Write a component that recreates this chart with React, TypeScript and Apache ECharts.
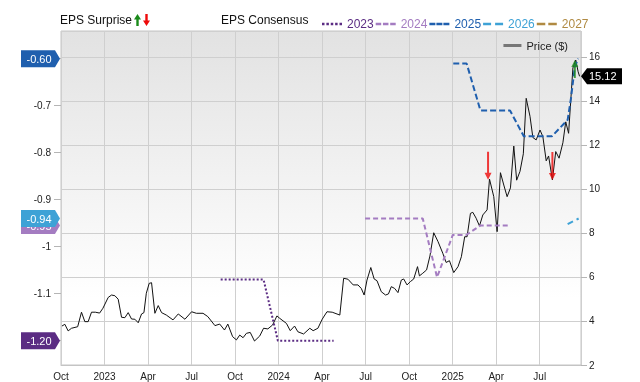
import { useEffect, useRef } from 'react';
import * as echarts from 'echarts';

const FONT = '"Liberation Sans", Arial, Helvetica, sans-serif';

// ---- Data ----
const priceDates = [
  '2022-10-03','2022-10-09','2022-10-16','2022-10-23','2022-11-05','2022-11-13','2022-11-20','2022-11-27',
  '2022-12-04','2022-12-12','2022-12-21','2022-12-28','2023-01-08','2023-01-15','2023-01-22','2023-01-29',
  '2023-02-05','2023-02-12','2023-02-19','2023-02-26','2023-03-05','2023-03-12','2023-03-19','2023-03-24',
  '2023-03-29','2023-04-04','2023-04-09','2023-04-16','2023-04-23','2023-04-30','2023-05-10','2023-05-24',
  '2023-06-04','2023-06-18','2023-07-02','2023-07-12','2023-07-26','2023-08-05','2023-08-20','2023-08-30',
  '2023-09-09','2023-09-16','2023-09-26','2023-10-04','2023-10-11','2023-10-18','2023-10-25','2023-11-02',
  '2023-11-11','2023-11-22','2023-11-30','2023-12-09','2023-12-19','2023-12-28','2024-01-03','2024-01-17',
  '2024-01-25','2024-02-03','2024-02-10','2024-02-22','2024-03-06','2024-03-13','2024-03-23','2024-04-01',
  '2024-04-11','2024-04-22','2024-05-08','2024-05-16','2024-05-25','2024-06-05','2024-06-15','2024-06-22',
  '2024-06-28','2024-07-04','2024-07-12','2024-07-19','2024-07-25','2024-08-03','2024-08-12','2024-08-18',
  '2024-08-24','2024-08-31','2024-09-07','2024-09-14','2024-09-19','2024-09-26','2024-10-03','2024-10-10',
  '2024-10-18','2024-10-22','2024-10-29','2024-11-06','2024-11-13','2024-11-21','2024-11-30','2024-12-10',
  '2024-12-17','2024-12-24','2025-01-02','2025-01-11','2025-01-18','2025-01-25','2025-01-30','2025-02-06',
  '2025-02-11','2025-02-18','2025-02-25','2025-03-04','2025-03-13','2025-03-18','2025-03-27','2025-04-03',
  '2025-04-10','2025-04-17','2025-04-24','2025-05-01','2025-05-08','2025-05-14','2025-05-21','2025-05-28',
  '2025-06-03','2025-06-11','2025-06-17','2025-06-24','2025-07-02','2025-07-08','2025-07-15','2025-07-20',
  '2025-07-28','2025-08-04','2025-08-11','2025-08-19','2025-08-25','2025-08-31','2025-09-09','2025-09-15',
  '2025-09-20','2025-09-23'
];
const priceValues = [
  3.77,3.85,3.55,3.67,3.74,4.40,3.97,3.97,
  4.40,4.40,4.36,4.58,5.07,5.18,5.15,4.99,
  4.17,4.15,4.38,4.09,4.08,3.92,4.32,4.38,
  5.26,5.71,5.74,4.35,4.70,4.38,4.27,4.05,
  4.32,4.08,4.42,4.35,4.35,4.20,3.79,3.86,
  3.59,3.86,3.29,3.14,3.36,3.24,3.44,3.48,
  3.09,3.32,3.67,3.64,3.82,4.23,4.12,3.89,
  3.56,3.77,3.51,3.41,3.67,3.56,3.67,4.08,
  4.42,4.40,4.27,5.94,5.90,5.64,5.64,5.48,
  5.18,5.86,6.43,5.91,5.83,5.33,5.18,5.23,
  5.56,5.48,5.29,5.86,5.91,5.64,5.79,5.91,
  6.47,6.05,6.17,6.32,6.95,8.01,7.61,7.08,
  6.66,6.74,6.20,6.47,6.92,7.83,7.83,8.89,
  8.94,8.67,8.32,8.82,9.05,10.45,9.65,8.06,
  10.74,10.18,9.65,10.05,11.95,10.40,10.80,11.60,
  14.12,13.30,12.34,12.23,12.68,12.38,11.28,11.50,
  10.41,11.70,11.40,12.10,13.05,12.53,15.50,15.86,
  15.33,15.12
];

const consensusYears = ['2023', '2024', '2025', '2026', '2027'];
const consensusColors = ['#5b2c83', '#a47cc1', '#1f5fae', '#3ea2d6', '#b08a42'];

const cons2023Dates = ['2023-09-01', '2023-11-30', '2023-12-30', '2024-04-25'];
const cons2023Values = [-1.07, -1.07, -1.2, -1.2];
const cons2024Dates = ['2024-06-30', '2024-10-29', '2024-11-28', '2024-12-31', '2025-01-28', '2025-02-27', '2025-04-30'];
const cons2024Values = [-0.94, -0.94, -1.065, -0.975, -0.975, -0.955, -0.955];
const cons2025Dates = ['2025-01-01', '2025-01-29', '2025-02-27', '2025-04-30', '2025-05-29', '2025-07-27', '2025-08-29', '2025-09-05', '2025-09-13', '2025-09-20'];
const cons2025Values = [-0.61, -0.61, -0.71, -0.71, -0.765, -0.765, -0.73, -0.684, -0.617, -0.6];
const cons2026Dates = ['2025-08-29', '2025-09-21'];
const cons2026Values = [-0.952, -0.94];
const cons2027Dates: string[] = [];
const cons2027Values: number[] = [];

const surpriseUpDates = ['2025-09-13'];
const surpriseUpPrices = [15.86];
const surpriseDownDates = ['2025-03-15', '2025-07-28'];
const surpriseDownPrices = [10.42, 10.41];

const xTickLabels = ['Oct', '2023', 'Apr', 'Jul', 'Oct', '2024', 'Apr', 'Jul', 'Oct', '2025', 'Apr', 'Jul'];
const X_START = '2022-10-01';
const X_END = '2025-09-26';

const legendIcons = [
  'path://M0,0h2.5v2.5h-2.5z M4.375,0h2.5v2.5h-2.5z M8.75,0h2.5v2.5h-2.5z M13.125,0h2.5v2.5h-2.5z M17.5,0h2.5v2.5h-2.5z',
  'path://M0,0h5.5v2.5h-5.5z M7.25,0h5.5v2.5h-5.5z M14.5,0h5.5v2.5h-5.5z',
  'path://M0,0h6v2.5h-6z M7,0h6v2.5h-6z M14,0h6v2.5h-6z',
  'path://M0,0h8v2.5h-8z M12,0h8v2.5h-8z',
  'path://M0,0h8.5v2.5h-8.5z M11.5,0h8.5v2.5h-8.5z',
];
const lineDashes = [[2, 2], [5, 3], [6, 3], [6, 4], [6, 3]];

const DAY = 86400000;
const QUARTER = 365.25 / 4;

export default function App() {
  const ref = useRef<HTMLDivElement>(null);

  useEffect(() => {
    if (!ref.current) return;
    const chart = echarts.init(ref.current, null, { renderer: 'svg' });
    const base = Date.parse(X_START);
    const toX = (s: string) => (Date.parse(s) - base) / DAY;
    const pair = (ds: string[], vs: number[]) => ds.map((d, i) => [toX(d), vs[i]]);

    const consensus = [
      { dates: cons2023Dates, values: cons2023Values },
      { dates: cons2024Dates, values: cons2024Values },
      { dates: cons2025Dates, values: cons2025Values },
      { dates: cons2026Dates, values: cons2026Values },
      { dates: cons2027Dates, values: cons2027Values },
    ];
    const lastConsensus = consensus.filter((c) => c.values.length).map((c) => c.values[c.values.length - 1]);

    const option: any = {
      animation: false,
      textStyle: { fontFamily: FONT },
      grid: {
        left: 61, right: 59, top: 31, bottom: 17, show: true,
        backgroundColor: new echarts.graphic.LinearGradient(0, 0, 0, 1, [
          { offset: 0, color: '#e2e2e2' },
          { offset: 0.8, color: '#ffffff' },
          { offset: 1, color: '#ffffff' },
        ]),
        borderColor: '#c4c4c4', borderWidth: 1,
      },
      xAxis: {
        type: 'value', min: 0, max: toX(X_END), interval: QUARTER,
        axisLine: { show: true, lineStyle: { color: '#c4c4c4' } },
        axisTick: { show: false },
        splitLine: { show: true, lineStyle: { color: '#cfcfcf', width: 1 } },
        axisLabel: {
          fontSize: 10, color: '#222', margin: 6, showMaxLabel: false,
          formatter: (v: number) => xTickLabels[Math.round(v / QUARTER)] ?? '',
        },
      },
      yAxis: [
        {
          type: 'value', position: 'left', min: -1.2517, max: -0.541, splitNumber: 7,
          splitLine: { show: false }, axisLine: { show: false },
          axisTick: { show: true, length: 7, lineStyle: { color: '#b5b5b5' } },
          axisLabel: {
            fontSize: 10, color: '#222', margin: 10, showMinLabel: false, showMaxLabel: false,
            // labels that sit under a consensus marker are hidden by it
            formatter: (v: number) => (lastConsensus.some((c) => Math.abs(c - v) < 0.025) ? '' : String(+v.toFixed(2))),
          },
        },
        {
          type: 'value', position: 'right', min: 2, max: 17.18, interval: 2,
          splitLine: { show: true, lineStyle: { color: '#cfcfcf' } }, axisLine: { show: false },
          axisTick: { show: true, length: 6, lineStyle: { color: '#b5b5b5' } },
          axisLabel: { fontSize: 10, color: '#222', margin: 8, showMaxLabel: false },
        },
      ],
      legend: [
        {
          left: 317, top: 13, itemWidth: 20, itemHeight: 2.5, itemGap: 2, selectedMode: false,
          itemStyle: { borderWidth: 0 },
          textStyle: { fontSize: 12, fontFamily: FONT },
          data: consensusYears.map((y, i) => ({ name: y, icon: legendIcons[i], textStyle: { color: consensusColors[i] } })),
        },
        {
          right: 67, top: 35, itemWidth: 18, itemHeight: 3, icon: 'rect', selectedMode: false,
          itemStyle: { color: '#777', borderWidth: 0 },
          textStyle: { fontSize: 11, color: '#222', fontFamily: FONT },
          data: ['Price ($)'],
        },
      ],
      series: [
        {
          name: 'Price ($)', type: 'line', yAxisIndex: 1, data: pair(priceDates, priceValues),
          symbol: 'none', showSymbol: false, color: '#111',
          lineStyle: { color: '#111', width: 1 }, z: 2,
        },
        ...consensus.map((c, i) => ({
          name: consensusYears[i], type: 'line', yAxisIndex: 0, data: pair(c.dates, c.values),
          symbol: 'none', showSymbol: false, color: consensusColors[i],
          lineStyle: { color: consensusColors[i], width: 2, type: lineDashes[i] }, z: 3,
        })),
        {
          name: 'Surprise up', type: 'scatter', yAxisIndex: 1, data: pair(surpriseUpDates, surpriseUpPrices),
          symbol: 'path://M3.5,0 L7,7 L4.5,7 L4.5,18 L2.5,18 L2.5,7 L0,7 Z', symbolSize: [7, 18],
          symbolOffset: [0, '50%'], itemStyle: { color: '#1a8a1a' }, z: 5,
        },
        {
          name: 'Surprise down', type: 'scatter', yAxisIndex: 1, data: pair(surpriseDownDates, surpriseDownPrices),
          symbol: 'path://M2.5,0 L4.5,0 L4.5,21 L7,21 L3.5,28 L0,21 L2.5,21 Z', symbolSize: [7, 28],
          symbolOffset: [0, '-50%'], itemStyle: { color: '#ee0a0a' }, z: 5,
        },
      ],
      graphic: [
        { type: 'text', x: 60, y: 20, style: { text: 'EPS Surprise', fill: '#111', fontSize: 12, fontFamily: FONT, verticalAlign: 'middle' } },
        { type: 'polygon', shape: { points: [[137.5, 14], [141, 19.5], [138.7, 19.5], [138.7, 26], [136.3, 26], [136.3, 19.5], [134, 19.5]] }, style: { fill: '#1a8a1a' } },
        { type: 'polygon', shape: { points: [[146.5, 26], [150, 20.5], [147.7, 20.5], [147.7, 14], [145.3, 14], [145.3, 20.5], [143, 20.5]] }, style: { fill: '#ee0a0a' } },
        { type: 'text', x: 221, y: 20, style: { text: 'EPS Consensus', fill: '#111', fontSize: 12, fontFamily: FONT, verticalAlign: 'middle' } },
      ],
    };
    chart.setOption(option);

    const extra: any[] = [];
    consensus.forEach((c, i) => {
      if (!c.values.length) return;
      const v = c.values[c.values.length - 1];
      const y = chart.convertToPixel({ yAxisIndex: 0 } as any, v) as number;
      extra.push({
        type: 'polygon', z: 20 + i,
        shape: { points: [[21, y - 8.5], [55, y - 8.5], [60, y], [55, y + 8.5], [21, y + 8.5]] },
        style: { fill: consensusColors[i] },
      });
      extra.push({
        type: 'text', z: 20 + i, x: 39, y,
        style: { text: v.toFixed(2), fill: '#fff', fontSize: 11, fontFamily: FONT, align: 'center', verticalAlign: 'middle' },
      });
    });
    const last = priceValues[priceValues.length - 1];
    const py = chart.convertToPixel({ yAxisIndex: 1 } as any, last) as number;
    extra.push({
      type: 'polygon', z: 30,
      shape: { points: [[581, py], [587, py - 8], [622, py - 8], [622, py + 8], [587, py + 8]] },
      style: { fill: '#000' },
    });
    extra.push({
      type: 'text', z: 30, x: 589, y: py,
      style: { text: last.toFixed(2), fill: '#fff', fontSize: 11, fontFamily: FONT, verticalAlign: 'middle' },
    });
    chart.setOption({ graphic: [...option.graphic, ...extra] });

    return () => chart.dispose();
  }, []);

  return <div ref={ref} style={{ position: 'fixed', left: 0, top: 0, width: 640, height: 382 }} />;
}
